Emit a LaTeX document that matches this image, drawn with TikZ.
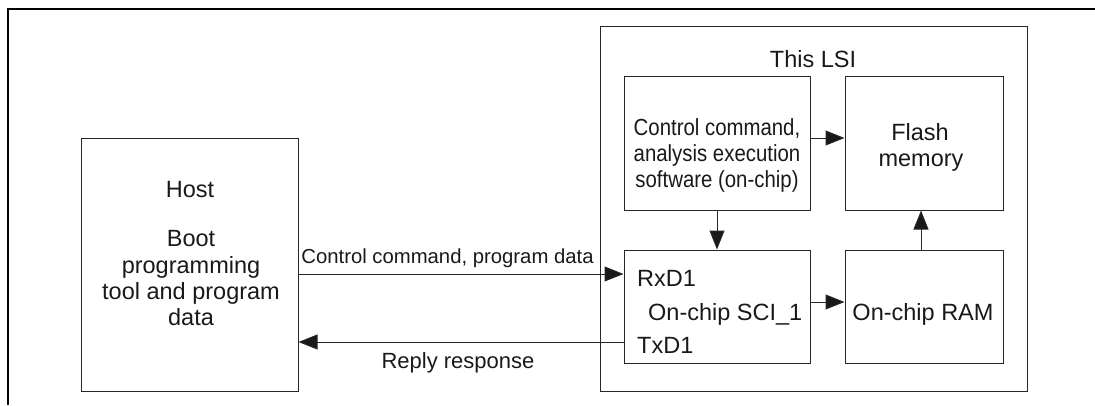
\documentclass[tikz,border=0pt]{standalone}
\usepackage{fontspec}
\setmainfont{Liberation Sans}
\newfontfamily\narrowfont[FakeStretch=0.875]{Liberation Sans}
\usetikzlibrary{arrows.meta}
\begin{document}
\begin{tikzpicture}[x=1pt,y=-1pt,
  box/.style={draw=black!85, line width=1pt, inner sep=0pt},
  txt/.style={inner sep=0pt, anchor=base, text=black!90, font=\fontsize{23.5}{26}\selectfont},
  ltxt/.style={inner sep=0pt, anchor=base west, text=black!90, font=\fontsize{23.5}{26}\selectfont},
  ntxt/.style={inner sep=0pt, anchor=base, text=black!90, font=\narrowfont\fontsize{23.3}{26}\selectfont},
  lbl/.style={inner sep=0pt, anchor=base, text=black!90, font=\fontsize{20.3}{24}\selectfont},
  arr/.style={draw=black!85, line width=1pt, -{Triangle[length=19pt,width=15pt,fill=black!90]}},
  conn/.style={draw=black!85, line width=1pt}]
\useasboundingbox (0,0) rectangle (1095,405);
\draw[line width=2pt] (8,405) -- (8,9) -- (1095,9);

% boxes
\node[box, minimum width=217pt, minimum height=253pt] (host) at (189.5,264.5) {};
\node[box, minimum width=427pt, minimum height=365pt] (lsi) at (813.5,208.5) {};
\node[box, minimum width=186pt, minimum height=134pt] (ctrl) at (717,143) {};
\node[box, minimum width=158pt, minimum height=134pt] (flash) at (924,143) {};
\node[box, minimum width=186pt, minimum height=113pt] (sci) at (717,306.5) {};
\node[box, minimum width=158pt, minimum height=113pt] (ram) at (924,306.5) {};

% texts
\node[txt] (lsitxt) at (813,67) {This LSI};
\node[txt] (hosttxt) at (190,197) {Host};
\node[txt] (h1) at (191,246) {Boot};
\node[txt] (h2) at (191,273) {programming};
\node[txt] (h3) at (191,299) {tool and program};
\node[txt] (h4) at (191,325) {data};
\node[ntxt] (c1) at (717,135) {Control command,};
\node[ntxt] (c2) at (717,161) {analysis execution};
\node[ntxt] (c3) at (717,187) {software (on-chip)};
\node[txt] (f1) at (920,140) {Flash};
\node[txt] (f2) at (921,166) {memory};
\node[txt] (ramtxt) at (923,320) {On-chip RAM};
\node[ltxt] (rxd) at (637,286) {RxD1};
\node[ltxt] (scitxt) at (648,320) {On-chip SCI\_1};
\node[ltxt] (txd) at (637,353) {TxD1};
\node[lbl] (cmdlbl) at (447.5,263) {Control command, program data};
\node[lbl, font=\fontsize{22}{24}\selectfont] (replbl) at (458,368) {Reply response};

% connectors
\draw[arr] ([yshift=5pt]ctrl.east) -- ([yshift=5pt]flash.west);
\draw[arr] (ctrl.south) -- (sci.north);
\draw[arr] ([yshift=4.5pt]sci.east) -- ([yshift=4.5pt]ram.west);
\draw[arr] ([xshift=-3pt]ram.north) -- ([xshift=-3pt]flash.south);
\draw[arr] ([yshift=-9.5pt]host.east) -- ([yshift=32.5pt]sci.west);
\draw[arr] ([yshift=-35.5pt]sci.west) -- ([yshift=-77.5pt]host.east);
\end{tikzpicture}
\end{document}
